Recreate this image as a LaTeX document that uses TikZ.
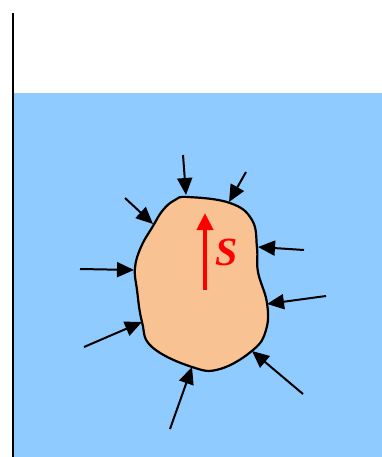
\documentclass[tikz,border=0pt]{standalone}
\usepackage{fontspec}
\setmainfont{Liberation Serif}
\usetikzlibrary{arrows.meta}
\definecolor{water}{RGB}{143,203,255}
\definecolor{body}{RGB}{248,194,146}

\begin{document}
\begin{tikzpicture}[x=1pt,y=-1pt,
  push/.style={line width=2pt,-{Triangle[length=17pt,width=15pt]}},
  lift/.style={red,line width=4pt,-{Triangle[length=17pt,width=16pt]}}]
\useasboundingbox (0,0) rectangle (382,457);
% fluid and wall
\fill[water] (14,93) rectangle (382,457);
\draw[line width=2.5pt] (13,13) -- (13,457);
% immersed body
\draw[line width=2.2pt,fill=body] plot[smooth cycle,tension=0.7] coordinates {
  (188,197) (230,203) (252,220) (257,248) (258,272) (267,303) (266,330)
  (253,350) (220,369) (192,367) (152,347) (142,322) (137,290) (135,268)
  (141,247) (153,226) (163,210) (175,200)};
% pressure arrows
\foreach \i/\tx/\ty/\hx/\hy in {1/183/155/186/195, 2/246/172/229/202,
    3/125/198/153/224, 4/80/269/134/270, 5/304/250/258/247,
    6/326/296/267/304, 7/84/347/142/322, 8/170/429/192/367,
    9/303/394/252/351}{
  \coordinate (t\i) at (\tx,\ty);
  \coordinate (h\i) at (\hx,\hy);
  \draw[push] (t\i) -- (h\i);
}
% direction s
\coordinate (sbase) at (205,290);
\coordinate (stip) at (205,213);
\draw[lift] (sbase) -- (stip);
\node[red,font=\fontsize{40}{44}\selectfont\bfseries\itshape] (slabel) at (227,252) {S};
\end{tikzpicture}
\end{document}
